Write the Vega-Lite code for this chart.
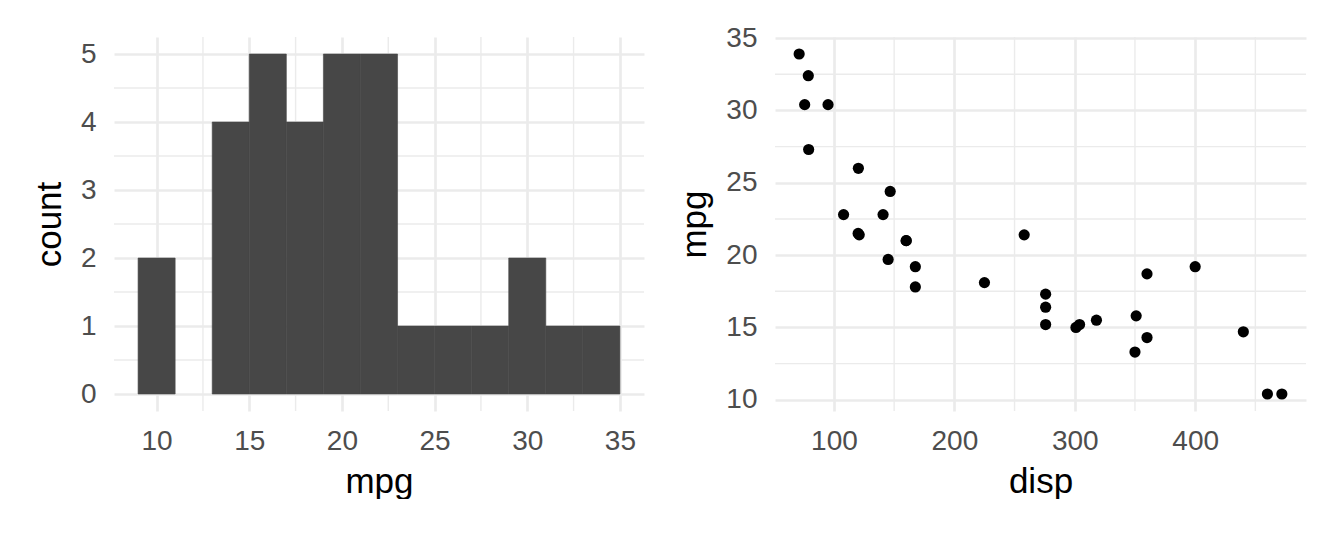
{
  "$schema": "https://vega.github.io/schema/vega-lite/v6.json",
  "background": "white",
  "padding": {"left": 32, "top": 24, "right": 0, "bottom": 0},
  "bounds": "flush",
  "spacing": 131,
  "config": {
    "view": {"stroke": null},
    "axis": {
      "labelFont": "Liberation Sans",
      "labelFontSize": 28,
      "labelColor": "#4D4D4D",
      "titleFont": "Liberation Sans",
      "titleFontSize": 35,
      "titleFontWeight": "normal",
      "titleColor": "#000000",
      "ticks": false,
      "domain": false,
      "grid": true,
      "gridColor": "#EBEBEB",
      "gridWidth": 2.7
    },
    "axisX": {"labelPadding": 16, "titlePadding": 9},
    "axisY": {"labelPadding": 18, "titlePadding": 13}
  },
  "datasets": {
    "bins": [
      {"lo": 9, "hi": 11, "count": 2},
      {"lo": 13, "hi": 15, "count": 4},
      {"lo": 15, "hi": 17, "count": 5},
      {"lo": 17, "hi": 19, "count": 4},
      {"lo": 19, "hi": 21, "count": 5},
      {"lo": 21, "hi": 23, "count": 5},
      {"lo": 23, "hi": 25, "count": 1},
      {"lo": 25, "hi": 27, "count": 1},
      {"lo": 27, "hi": 29, "count": 1},
      {"lo": 29, "hi": 31, "count": 2},
      {"lo": 31, "hi": 33, "count": 1},
      {"lo": 33, "hi": 35, "count": 1}
    ],
    "cars": [
      {"disp": 160, "mpg": 21.0},
      {"disp": 160, "mpg": 21.0},
      {"disp": 108, "mpg": 22.8},
      {"disp": 258, "mpg": 21.4},
      {"disp": 360, "mpg": 18.7},
      {"disp": 225, "mpg": 18.1},
      {"disp": 360, "mpg": 14.3},
      {"disp": 146.7, "mpg": 24.4},
      {"disp": 140.8, "mpg": 22.8},
      {"disp": 167.6, "mpg": 19.2},
      {"disp": 167.6, "mpg": 17.8},
      {"disp": 275.8, "mpg": 16.4},
      {"disp": 275.8, "mpg": 17.3},
      {"disp": 275.8, "mpg": 15.2},
      {"disp": 472, "mpg": 10.4},
      {"disp": 460, "mpg": 10.4},
      {"disp": 440, "mpg": 14.7},
      {"disp": 78.7, "mpg": 32.4},
      {"disp": 75.7, "mpg": 30.4},
      {"disp": 71.1, "mpg": 33.9},
      {"disp": 120.1, "mpg": 21.5},
      {"disp": 318, "mpg": 15.5},
      {"disp": 304, "mpg": 15.2},
      {"disp": 350, "mpg": 13.3},
      {"disp": 400, "mpg": 19.2},
      {"disp": 79, "mpg": 27.3},
      {"disp": 120.3, "mpg": 26.0},
      {"disp": 95.1, "mpg": 30.4},
      {"disp": 351, "mpg": 15.8},
      {"disp": 145, "mpg": 19.7},
      {"disp": 301, "mpg": 15.0},
      {"disp": 121, "mpg": 21.4}
    ],
    "lxminor": [{"v": 12.5}, {"v": 17.5}, {"v": 22.5}, {"v": 27.5}, {"v": 32.5}],
    "lyminor": [{"v": 0.5}, {"v": 1.5}, {"v": 2.5}, {"v": 3.5}, {"v": 4.5}],
    "rxminor": [{"v": 150}, {"v": 250}, {"v": 350}, {"v": 450}],
    "ryminor": [{"v": 12.5}, {"v": 17.5}, {"v": 22.5}, {"v": 27.5}, {"v": 32.5}]
  },
  "hconcat": [
    {
      "width": 530,
      "height": 374,
      "layer": [
        {
          "data": {"name": "lxminor"},
          "mark": {"type": "rule", "color": "#EBEBEB", "strokeWidth": 1.4},
          "encoding": {
            "x": {
              "field": "v", "type": "quantitative",
              "scale": {"domain": [7.7, 36.3], "nice": false, "zero": false},
              "axis": {"title": "mpg", "values": [10, 15, 20, 25, 30, 35]}
            }
          }
        },
        {
          "data": {"name": "lyminor"},
          "mark": {"type": "rule", "color": "#EBEBEB", "strokeWidth": 1.4},
          "encoding": {
            "y": {
              "field": "v", "type": "quantitative",
              "scale": {"domain": [-0.25, 5.25], "nice": false, "zero": false},
              "axis": {"title": "count", "values": [0, 1, 2, 3, 4, 5]}
            }
          }
        },
        {
          "data": {"name": "bins"},
          "mark": {"type": "bar", "color": "#474747", "stroke": "#474747", "strokeWidth": 0.6, "binSpacing": 0},
          "encoding": {
            "x": {
              "field": "lo", "type": "quantitative",
              "scale": {"domain": [7.7, 36.3], "nice": false, "zero": false},
              "axis": {"title": "mpg", "values": [10, 15, 20, 25, 30, 35]}
            },
            "x2": {"field": "hi"},
            "y": {
              "field": "count", "type": "quantitative",
              "scale": {"domain": [-0.25, 5.25], "nice": false, "zero": false},
              "axis": {"title": "count", "values": [0, 1, 2, 3, 4, 5]}
            },
            "y2": {"datum": 0}
          }
        }
      ]
    },
    {
      "width": 531,
      "height": 374,
      "layer": [
        {
          "data": {"name": "rxminor"},
          "mark": {"type": "rule", "color": "#EBEBEB", "strokeWidth": 1.4},
          "encoding": {
            "x": {
              "field": "v", "type": "quantitative",
              "scale": {"domain": [51.05, 492.05], "nice": false, "zero": false},
              "axis": {"title": "disp", "values": [100, 200, 300, 400]}
            }
          }
        },
        {
          "data": {"name": "ryminor"},
          "mark": {"type": "rule", "color": "#EBEBEB", "strokeWidth": 1.4},
          "encoding": {
            "y": {
              "field": "v", "type": "quantitative",
              "scale": {"domain": [9.225, 35.075], "nice": false, "zero": false},
              "axis": {"title": "mpg", "values": [10, 15, 20, 25, 30, 35]}
            }
          }
        },
        {
          "data": {"name": "cars"},
          "mark": {"type": "circle", "color": "#000000", "opacity": 1, "size": 125},
          "encoding": {
            "x": {
              "field": "disp", "type": "quantitative",
              "scale": {"domain": [51.05, 492.05], "nice": false, "zero": false},
              "axis": {"title": "disp", "values": [100, 200, 300, 400]}
            },
            "y": {
              "field": "mpg", "type": "quantitative",
              "scale": {"domain": [9.225, 35.075], "nice": false, "zero": false},
              "axis": {"title": "mpg", "values": [10, 15, 20, 25, 30, 35]}
            }
          }
        }
      ]
    }
  ]
}
